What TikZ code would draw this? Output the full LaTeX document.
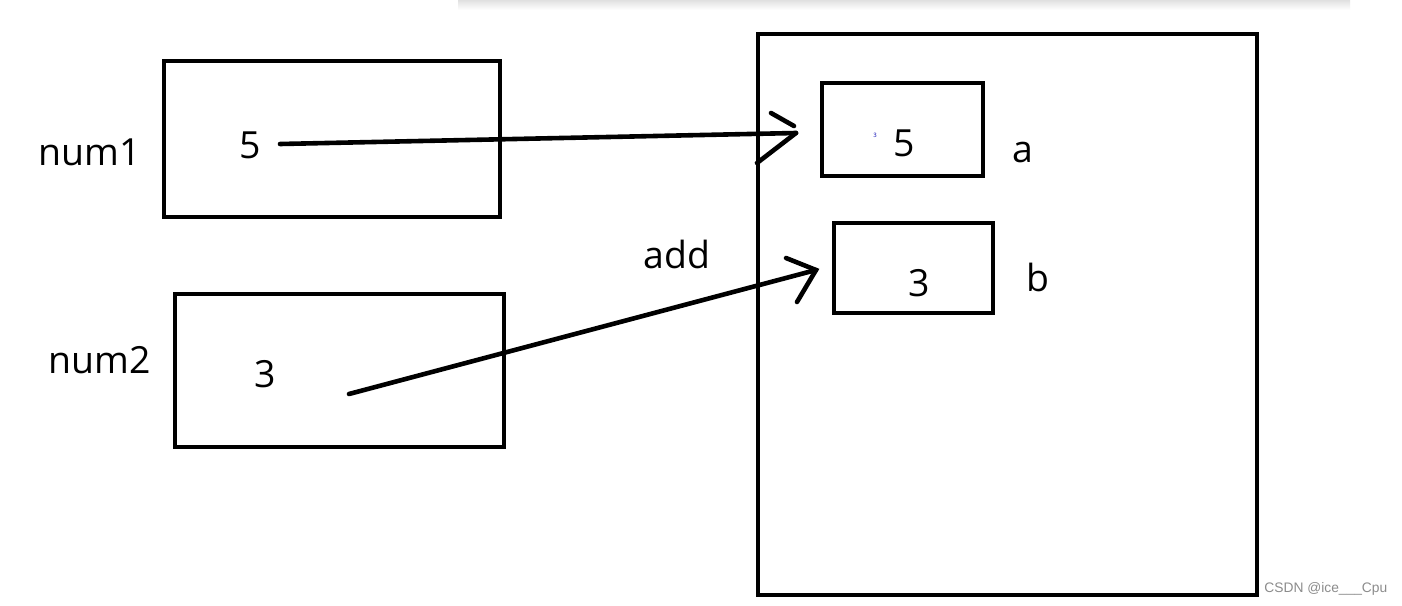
\documentclass[tikz,border=0pt]{standalone}
\usepackage{fontspec}
\setmainfont{Open Sans}
\newfontfamily\wmfont{Liberation Sans}
\begin{document}
\begin{tikzpicture}[x=0.5pt,y=-0.5pt,
  box/.style={draw=black,line width=2pt},
  lbl/.style={font=\fontsize{18.7pt}{22pt}\selectfont,inner sep=0pt,anchor=center},
  pen/.style={line width=2.3pt,line cap=round}]
\useasboundingbox[fill=white] (0,0) rectangle (1402,605);
% top shadow
\shade[top color=black!12,bottom color=white] (458,0) rectangle (1350,10);
% boxes
\draw[box] (164,61) rectangle (500,217);
\draw[box] (175,294) rectangle (504,447);
\draw[box] (758,34) rectangle (1257,595);
\draw[box] (822,83) rectangle (983,176);
\draw[box] (834,223) rectangle (993,313);
% labels
\node[lbl] (num1) at (90,152) {num1};
\node[lbl] (v5) at (250,145) {5};
\node[lbl] (num2) at (100,360) {num2};
\node[lbl] (v3) at (265,374) {3};
\node[lbl] (add) at (677,254) {add};
\node[lbl] (a5) at (904,143) {5};
\node[lbl] (la) at (1023,153) {a};
\node[lbl] (b3) at (919,283) {3};
\node[lbl] (lb) at (1038,277) {b};
\node[font=\fontsize{3pt}{3pt}\selectfont,text=blue!70!black,inner sep=0pt] (tiny) at (875,135) {3};
\node[font=\wmfont\fontsize{6.9pt}{8pt}\selectfont,text=black!45,inner sep=0pt,anchor=west] (wm) at (1264,589) {CSDN @ice\_\_\_Cpu};
% arrow 1
\coordinate (s1) at (280,144);
\coordinate (t1) at (796,133);
\coordinate (u1) at (771,113);
\coordinate (u1e) at (794,126);
\coordinate (l1) at (757,163);
\draw[pen] (s1) -- (t1);
\draw[pen] (u1) -- (u1e);
\draw[pen] (t1) -- (l1);
% arrow 2
\coordinate (s2) at (349,394);
\coordinate (t2) at (816,270);
\coordinate (u2) at (786,258);
\coordinate (l2) at (797,302);
\draw[pen] (s2) -- (t2);
\draw[pen] (u2) -- (t2) -- (l2);
\end{tikzpicture}
\end{document}
